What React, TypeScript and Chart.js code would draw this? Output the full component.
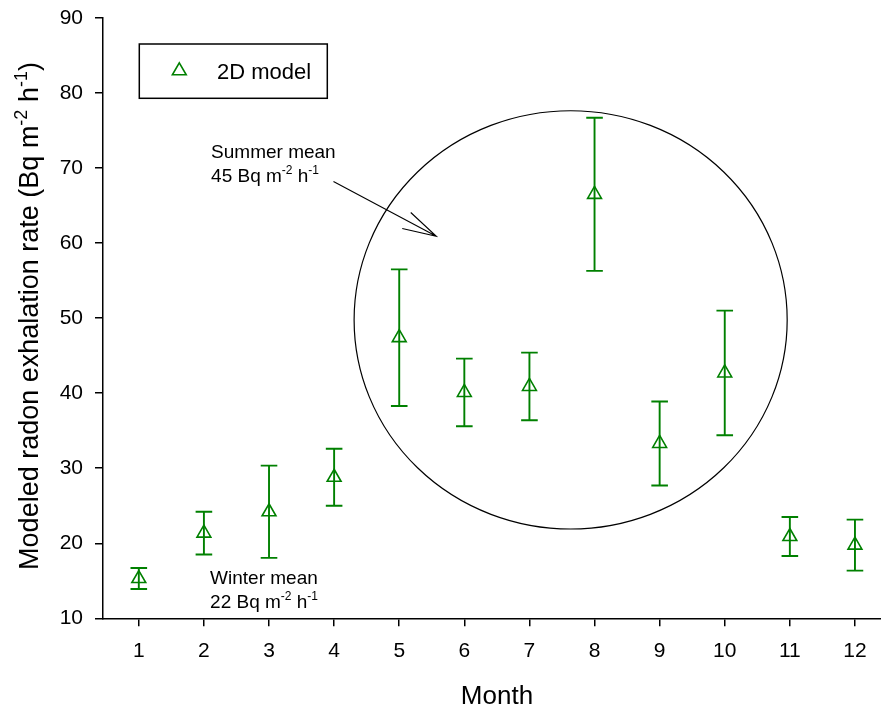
import React, { useEffect, useRef } from "react";
import { Chart, registerables } from "chart.js";

Chart.register(...registerables);

// ---------- data ----------
const MONTHS = [1, 2, 3, 4, 5, 6, 7, 8, 9, 10, 11, 12];
const RADON_MEAN = [15.3, 21.35, 24.2, 28.8, 47.4, 40.1, 40.9, 66.5, 33.3, 42.7, 20.9, 19.75];
const RADON_ERR = [1.4, 2.85, 6.15, 3.8, 9.1, 4.5, 4.5, 10.2, 5.6, 8.3, 2.6, 3.4];
const Y_TICKS = [10, 20, 30, 40, 50, 60, 70, 80, 90];
const SERIES_LABEL = "2D model";
const X_TITLE = "Month";
const Y_TITLE = [
  { t: "Modeled radon exhalation rate (Bq m", sup: false },
  { t: "-2", sup: true },
  { t: " h", sup: false },
  { t: "-1", sup: true },
  { t: ")", sup: false },
];
const SUMMER_LINE1 = [{ t: "Summer mean", sup: false }];
const SUMMER_LINE2 = [
  { t: "45 Bq m", sup: false },
  { t: "-2", sup: true },
  { t: " h", sup: false },
  { t: "-1", sup: true },
];
const WINTER_LINE1 = [{ t: "Winter mean", sup: false }];
const WINTER_LINE2 = [
  { t: "22 Bq m", sup: false },
  { t: "-2", sup: true },
  { t: " h", sup: false },
  { t: "-1", sup: true },
];
// annotation anchors in data coordinates (month, rate)
const SUMMER_TEXT_POS = { x: 2.11, y1: 71.37, y2: 68.21 };
const WINTER_TEXT_POS = { x: 2.095, y1: 14.57, y2: 11.33 };
const SUMMER_ELLIPSE = { cx: 7.633, cy: 49.77, rx: 3.326, ry: 27.87 };
const SUMMER_ARROW = { x0: 3.99, y0: 68.2, x1: 5.57, y1: 60.9 };

const GREEN = "rgb(0,128,0)";
const FONT = "'Liberation Sans', Arial, Helvetica, sans-serif";

type Seg = { t: string; sup: boolean };

function richWidth(ctx: CanvasRenderingContext2D, segs: Seg[], size: number) {
  let w = 0;
  for (const s of segs) {
    ctx.font = `${s.sup ? Math.round(size * 0.65) : size}px ${FONT}`;
    w += ctx.measureText(s.t).width;
  }
  return w;
}

function drawRich(
  ctx: CanvasRenderingContext2D,
  segs: Seg[],
  x: number,
  y: number,
  size: number
) {
  let cx = x;
  ctx.textBaseline = "alphabetic";
  ctx.textAlign = "left";
  for (const s of segs) {
    const fs = s.sup ? Math.round(size * 0.65) : size;
    ctx.font = `${fs}px ${FONT}`;
    ctx.fillText(s.t, cx, s.sup ? y - size * 0.42 : y);
    cx += ctx.measureText(s.t).width;
  }
}

const decorPlugin = {
  id: "decor",
  beforeDatasetsDraw(chart: any) {
    const { ctx, scales } = chart;
    const xs = scales.x;
    const ys = scales.y;
    ctx.save();
    // error bars
    ctx.strokeStyle = GREEN;
    ctx.lineWidth = 1.9;
    MONTHS.forEach((m, i) => {
      const px = xs.getPixelForValue(m);
      const top = ys.getPixelForValue(RADON_MEAN[i] + RADON_ERR[i]);
      const bot = ys.getPixelForValue(RADON_MEAN[i] - RADON_ERR[i]);
      ctx.beginPath();
      ctx.moveTo(px, top);
      ctx.lineTo(px, bot);
      ctx.moveTo(px - 8.3, top);
      ctx.lineTo(px + 8.3, top);
      ctx.moveTo(px - 8.3, bot);
      ctx.lineTo(px + 8.3, bot);
      ctx.stroke();
    });
    // ellipse
    const ecx = xs.getPixelForValue(SUMMER_ELLIPSE.cx);
    const ecy = ys.getPixelForValue(SUMMER_ELLIPSE.cy);
    const erx = Math.abs(xs.getPixelForValue(SUMMER_ELLIPSE.cx + SUMMER_ELLIPSE.rx) - ecx);
    const ery = Math.abs(ys.getPixelForValue(SUMMER_ELLIPSE.cy + SUMMER_ELLIPSE.ry) - ecy);
    ctx.strokeStyle = "#000";
    ctx.lineWidth = 1.2;
    ctx.beginPath();
    ctx.ellipse(ecx, ecy, erx, ery, 0, 0, Math.PI * 2);
    ctx.stroke();
    // arrow
    const ax0 = xs.getPixelForValue(SUMMER_ARROW.x0);
    const ay0 = ys.getPixelForValue(SUMMER_ARROW.y0);
    const ax1 = xs.getPixelForValue(SUMMER_ARROW.x1);
    const ay1 = ys.getPixelForValue(SUMMER_ARROW.y1);
    const ang = Math.atan2(ay1 - ay0, ax1 - ax0);
    const hl = 35;
    const ha = (15 * Math.PI) / 180;
    ctx.lineWidth = 1.1;
    ctx.beginPath();
    ctx.moveTo(ax0, ay0);
    ctx.lineTo(ax1, ay1);
    ctx.moveTo(ax1 - hl * Math.cos(ang - ha), ay1 - hl * Math.sin(ang - ha));
    ctx.lineTo(ax1, ay1);
    ctx.lineTo(ax1 - hl * Math.cos(ang + ha), ay1 - hl * Math.sin(ang + ha));
    ctx.stroke();
    ctx.restore();
  },
  afterDraw(chart: any) {
    const { ctx, scales, chartArea } = chart;
    const xs = scales.x;
    const ys = scales.y;
    ctx.save();
    ctx.fillStyle = "#000";
    // annotations
    drawRich(ctx, SUMMER_LINE1, xs.getPixelForValue(SUMMER_TEXT_POS.x), ys.getPixelForValue(SUMMER_TEXT_POS.y1), 19);
    drawRich(ctx, SUMMER_LINE2, xs.getPixelForValue(SUMMER_TEXT_POS.x), ys.getPixelForValue(SUMMER_TEXT_POS.y2), 19);
    drawRich(ctx, WINTER_LINE1, xs.getPixelForValue(WINTER_TEXT_POS.x), ys.getPixelForValue(WINTER_TEXT_POS.y1), 19);
    drawRich(ctx, WINTER_LINE2, xs.getPixelForValue(WINTER_TEXT_POS.x), ys.getPixelForValue(WINTER_TEXT_POS.y2), 19);

    // legend
    const lx = chartArea.left + 36.3;
    const ly = chartArea.top + 26;
    ctx.strokeStyle = "#000";
    ctx.lineWidth = 1.5;
    ctx.strokeRect(lx, ly, 188, 54.3);
    const tx = lx + 40;
    const ty = ly + 26.8;
    const r = 8;
    ctx.strokeStyle = GREEN;
    ctx.lineWidth = 1.6;
    ctx.beginPath();
    ctx.moveTo(tx, ty - r);
    ctx.lineTo(tx + 0.866 * r, ty + 0.5 * r);
    ctx.lineTo(tx - 0.866 * r, ty + 0.5 * r);
    ctx.closePath();
    ctx.stroke();
    ctx.fillStyle = "#000";
    drawRich(ctx, [{ t: SERIES_LABEL, sup: false }], lx + 77.7, ly + 35.2, 22);

    // x title
    const xt = 26;
    const xw = richWidth(ctx, [{ t: X_TITLE, sup: false }], xt);
    drawRich(ctx, [{ t: X_TITLE, sup: false }], 497 - xw / 2, 704, xt);

    // y title
    const yt = 27;
    const yw = richWidth(ctx, Y_TITLE, yt);
    ctx.translate(38, 316);
    ctx.rotate(-Math.PI / 2);
    drawRich(ctx, Y_TITLE, -yw / 2, 0, yt);
    ctx.restore();
  },
};

export default function App() {
  const ref = useRef<HTMLCanvasElement | null>(null);
  useEffect(() => {
    if (!ref.current) return;
    const chart = new Chart(ref.current, {
      type: "scatter",
      data: {
        datasets: [
          {
            label: SERIES_LABEL,
            data: MONTHS.map((m, i) => ({ x: m, y: RADON_MEAN[i] })),
            pointStyle: "triangle",
            pointRadius: 8,
            pointHoverRadius: 8,
            borderColor: GREEN,
            backgroundColor: "rgba(0,0,0,0)",
            borderWidth: 1.6,
            showLine: false,
          },
        ],
      },
      options: {
        animation: false,
        responsive: true,
        maintainAspectRatio: false,
        layout: { autoPadding: false, padding: { top: 18, right: 0, left: 0, bottom: 0 } },
        plugins: {
          legend: { display: false },
          tooltip: { enabled: false },
        },
        scales: {
          x: {
            type: "linear",
            min: 0.45,
            max: 12.4,
            afterBuildTicks: (scale: any) => {
              scale.ticks = MONTHS.map((v) => ({ value: v }));
            },
            afterFit: (scale: any) => {
              scale.height = 89.7;
              scale.paddingLeft = 0;
              scale.paddingRight = 0;
              scale.paddingTop = 0;
              scale.paddingBottom = 0;
            },
            ticks: {
              color: "#000",
              font: { family: FONT, size: 21 },
              padding: 12,
              callback: (v: any) => String(v),
              maxRotation: 0,
              autoSkip: false,
            },
            grid: {
              drawOnChartArea: false,
              drawTicks: true,
              tickLength: 8,
              color: "#000",
              lineWidth: 1.5,
            },
            border: { display: true, color: "#000", width: 1.5 },
          },
          y: {
            type: "linear",
            min: 10,
            max: 90,
            afterBuildTicks: (scale: any) => {
              scale.ticks = Y_TICKS.map((v) => ({ value: v }));
            },
            afterFit: (scale: any) => {
              scale.width = 103;
              scale.paddingLeft = 0;
              scale.paddingRight = 0;
              scale.paddingTop = 0;
              scale.paddingBottom = 0;
            },
            ticks: {
              color: "#000",
              font: { family: FONT, size: 21 },
              padding: 12,
              callback: (v: any) => String(v),
            },
            grid: {
              drawOnChartArea: false,
              drawTicks: true,
              tickLength: 8,
              color: "#000",
              lineWidth: 1.5,
            },
            border: { display: true, color: "#000", width: 1.5 },
          },
        },
      },
      plugins: [decorPlugin],
    });
    return () => chart.destroy();
  }, []);
  return (
    <div style={{ position: "absolute", left: 0, top: 0, width: 881, height: 708, background: "#fff" }}>
      <canvas ref={ref} />
    </div>
  );
}
